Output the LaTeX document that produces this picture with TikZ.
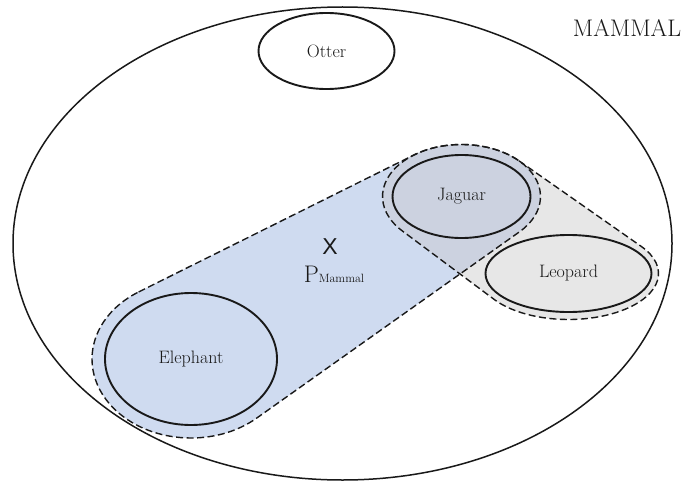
\documentclass[tikz,border=0pt]{standalone}
\usepackage{fontspec}
\newfontfamily\sansX{Liberation Sans}
\usetikzlibrary{shapes.geometric,calc}
\definecolor{hullblue}{RGB}{207,219,240}
\definecolor{hullgrey}{RGB}{231,231,231}
\definecolor{hullmix}{RGB}{204,210,224}
\definecolor{inkc}{RGB}{25,25,25}
\def\pathBlue{($(191,124)+(121.9:99 and 79)$) -- ($(461.5,286.5)+(127:79 and 52)$) arc[start angle=127,end angle=-42.9,x radius=79,y radius=52] -- ($(191,124)+(-48.4:99 and 79)$) arc[start angle=-48.4,end angle=-238.1,x radius=99,y radius=79] -- cycle}
\def\pathGrey{($(461.5,286.5)+(43.4:79 and 52)$) -- ($(568.5,209.5)+(36.3:90 and 46)$) arc[start angle=36.3,end angle=-145.4,x radius=90,y radius=46] -- ($(461.5,286.5)+(221.6:79 and 52)$) arc[start angle=221.6,end angle=43.4,x radius=79,y radius=52] -- cycle}
\tikzset{
  setline/.style={ellipse, draw=inkc, line width=1.9pt, inner sep=0pt, text=inkc, font=\fontsize{18}{18}\selectfont},
  hullline/.style={draw=inkc, line width=1.4pt, dash pattern=on 7pt off 3.5pt},
  bigset/.style={ellipse, draw=inkc, line width=1.5pt, inner sep=0pt}
}
\begin{document}
\begin{tikzpicture}[x=1pt,y=1pt]
\useasboundingbox (0,0) rectangle (685,483);
% fills
\fill[hullblue] \pathBlue;
\fill[hullgrey] \pathGrey;
\begin{scope}
  \clip \pathBlue;
  \fill[hullmix] \pathGrey;
\end{scope}
% dashed outlines
\draw[hullline] \pathGrey;
\draw[hullline] \pathBlue;
% sets
\node[bigset, minimum width=659pt, minimum height=473pt] (mammal) at (342.5,239.5) {};
\node[setline, minimum width=136pt, minimum height=76pt] (otter) at (326.5,432) {Otter};
\node[setline, minimum width=172pt, minimum height=132pt] (elephant) at (191,124) {Elephant};
\node[setline, minimum width=138pt, minimum height=83pt] (jaguar) at (461.5,286.5) {Jaguar};
\node[setline, minimum width=166pt, minimum height=77pt] (leopard) at (568.5,209.5) {Leopard};
% labels
\node[text=inkc, font=\fontsize{24}{24}\selectfont] (title) at (627,455) {MAMMAL};
\node[text=inkc, font=\sansX\fontsize{23}{23}\selectfont, inner sep=0pt] (xmark) at (330,236) {X};
\node[text=inkc, inner sep=0pt, anchor=base] (pm) at (334,201) {{\fontsize{24}{24}\selectfont P}{\fontsize{12}{12}\selectfont Mammal}};
\end{tikzpicture}
\end{document}
